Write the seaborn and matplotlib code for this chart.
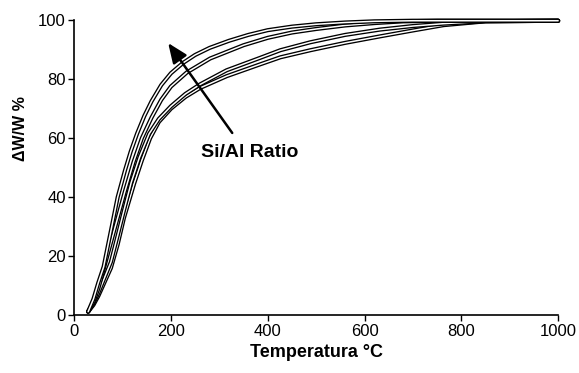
import matplotlib
matplotlib.use("Agg")
import matplotlib.pyplot as plt
import matplotlib.patheffects as pe
import seaborn as sns
import pandas as pd

# Temperature (°C) and ΔW/W (%) for four Si/Al ratios
temp_a = [29, 40, 50, 61, 79, 90, 105, 117, 130, 145, 160, 180, 200, 225, 250, 280, 320, 360, 400, 450, 500, 560, 620, 700, 1000]
ww_a = [1.2, 5.5, 11, 16.4, 31, 40, 49, 55.5, 61.5, 67.5, 72.5, 78, 82, 85.5, 88.2, 90.6, 93, 95, 96.6, 97.8, 98.6, 99.2, 99.6, 99.8, 99.8]

temp_b = [29, 40, 50, 70, 90, 105, 123, 140, 160, 180, 200, 233, 281, 350, 400, 450, 500, 560, 620, 680, 750, 1000]
ww_b = [1.2, 4.5, 9, 21, 33, 42, 52, 60, 67, 73, 77.5, 82.3, 87, 91.5, 94, 95.8, 97, 98.2, 99, 99.6, 99.8, 99.8]

temp_c = [29, 40, 50, 76, 90, 103, 118, 135, 155, 175, 200, 230, 260, 315, 384, 426, 488, 560, 632, 700, 763, 850, 1000]
ww_c = [1.2, 4, 7.5, 18, 27, 35.5, 45, 53.5, 61.5, 66.5, 70.8, 75, 78.2, 83, 87.2, 89.8, 92.5, 95, 96.8, 98, 98.8, 99.6, 99.8]

temp_d = [29, 40, 50, 76, 90, 103, 124, 140, 157, 175, 200, 230, 260, 315, 384, 426, 488, 560, 632, 700, 763, 850, 1000]
ww_d = [1.2, 3.5, 6.5, 16, 24, 33, 44.6, 52.5, 60, 65.5, 70, 74, 77, 81, 85, 87.4, 89.8, 92.3, 94.5, 96.5, 98.3, 99.6, 99.8]

x_ticks = [0, 200, 400, 600, 800, 1000]
y_ticks = [0, 20, 40, 60, 80, 100]

sns.set_style("ticks")
plt.rcParams['font.family'] = ['Liberation Sans', 'DejaVu Sans']
plt.rcParams['text.color'] = 'black'
plt.rcParams['axes.labelcolor'] = 'black'

fig = plt.figure(figsize=(5.79, 3.73), dpi=100)
ax = fig.add_axes([0.128, 0.155, 0.836, 0.791])

hollow = [pe.Stroke(linewidth=3.0, foreground='black'), pe.Normal()]
for t, w in [(temp_d, ww_d), (temp_c, ww_c), (temp_b, ww_b), (temp_a, ww_a)]:
    df = pd.DataFrame({"T": t, "W": w})
    sns.lineplot(data=df, x="T", y="W", ax=ax, color="white", linewidth=1.1,
                 path_effects=hollow, clip_on=False, sort=False)

ax.set_xlim(0, 1000)
ax.set_ylim(0, 100)
ax.set_xticks(x_ticks)
ax.set_yticks(y_ticks)
ax.tick_params(axis='both', direction='out', length=4, width=1, labelsize=12, pad=2,
               colors='black', labelcolor='black')
for s in ['left', 'bottom']:
    ax.spines[s].set_linewidth(1.2)
    ax.spines[s].set_color('black')
sns.despine(ax=ax)

ax.set_xlabel("Temperatura °C", fontsize=13, fontweight='bold', labelpad=4, color='black')
ax.set_ylabel("ΔW/W %", fontsize=11.5, fontweight='bold', color='black')
ax.yaxis.set_label_coords(-0.095, 0.634)

ax.annotate("", xy=(191, 93), xytext=(330, 61),
            arrowprops=dict(arrowstyle="-|>,head_length=0.6,head_width=0.25", color="black", lw=1.8, mutation_scale=20))
ax.text(362, 55, "Si/Al Ratio", fontsize=14, fontweight='bold', ha='center', va='center', color='black')

fig.savefig("out.png", dpi=100)
